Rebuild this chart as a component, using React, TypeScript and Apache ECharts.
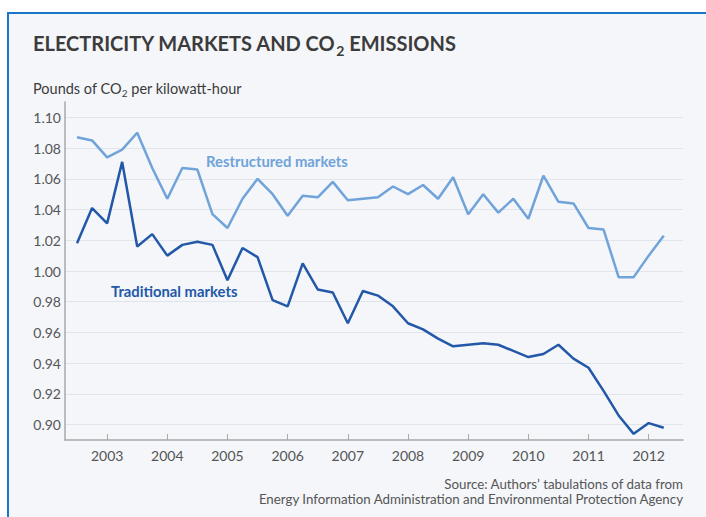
import React, { useEffect, useRef } from "react";
import * as echarts from "echarts";

const quarters = [
  2002.5, 2002.75, 2003, 2003.25, 2003.5, 2003.75, 2004, 2004.25, 2004.5, 2004.75,
  2005, 2005.25, 2005.5, 2005.75, 2006, 2006.25, 2006.5, 2006.75, 2007, 2007.25,
  2007.5, 2007.75, 2008, 2008.25, 2008.5, 2008.75, 2009, 2009.25, 2009.5, 2009.75,
  2010, 2010.25, 2010.5, 2010.75, 2011, 2011.25, 2011.5, 2011.75, 2012, 2012.25,
];

const restructured = [
  1.087, 1.085, 1.074, 1.079, 1.09, 1.067, 1.047, 1.067, 1.066, 1.037,
  1.028, 1.047, 1.06, 1.05, 1.036, 1.049, 1.048, 1.058, 1.046, 1.047,
  1.048, 1.055, 1.05, 1.056, 1.047, 1.061, 1.037, 1.05, 1.038, 1.047,
  1.034, 1.062, 1.045, 1.044, 1.028, 1.027, 0.996, 0.996, 1.01, 1.023,
];

const traditional = [
  1.018, 1.041, 1.031, 1.071, 1.016, 1.024, 1.01, 1.017, 1.019, 1.017,
  0.994, 1.015, 1.009, 0.981, 0.977, 1.005, 0.988, 0.986, 0.966, 0.987,
  0.984, 0.977, 0.966, 0.962, 0.956, 0.951, 0.952, 0.953, 0.952, 0.948,
  0.944, 0.946, 0.952, 0.943, 0.937, 0.922, 0.906, 0.894, 0.901, 0.898,
];

const yearTicks = [2003, 2004, 2005, 2006, 2007, 2008, 2009, 2010, 2011, 2012];
const yTickLabels = ["0.90", "0.92", "0.94", "0.96", "0.98", "1.00", "1.02", "1.04", "1.06", "1.08", "1.10"];

const FONT = "Lato";
const LIGHT = "#6fa3d9";
const DARK = "#2358a8";

export default function App() {
  const ref = useRef<HTMLDivElement>(null);
  useEffect(() => {
    if (!ref.current) return;
    const chart = echarts.init(ref.current, null, { renderer: "svg" });
    const option: any = {
      animation: false,
      backgroundColor: "#f4f6fa",
      textStyle: { fontFamily: FONT },
      grid: { left: 65, right: 23, top: 102, bottom: 77, containLabel: false },
      xAxis: {
        type: "value",
        min: 2002.3,
        max: 2012.57,
        axisLine: { show: true, lineStyle: { color: "#a9a9a9", width: 1.5 } },
        axisTick: { show: true, inside: true, length: 6, customValues: yearTicks, lineStyle: { color: "#a9a9a9" } },
        axisLabel: {
          customValues: yearTicks,
          formatter: (v: number) => String(Math.round(v)),
          color: "#555",
          fontSize: 14,
          fontFamily: FONT,
          margin: 8,
        },
        splitLine: { show: false },
      },
      yAxis: {
        type: "value",
        min: 0.89,
        max: 1.11,
        interval: 0.01,
        axisLine: { show: true, lineStyle: { color: "#a9a9a9", width: 1.5 } },
        axisTick: { show: false },
        axisLabel: {
          formatter: (v: number) => {
            const s = (Math.round(v * 100) / 100).toFixed(2);
            return yTickLabels.indexOf(s) >= 0 ? s : "";
          },
          color: "#555",
          fontSize: 14,
          fontFamily: FONT,
          margin: 4,
        },
        splitLine: { show: true, lineStyle: { color: ["rgba(0,0,0,0)", "#e1e4ea"], width: 1 } },
      },
      graphic: [
        { type: "rect", silent: true, shape: { x: 0, y: 0, width: 706, height: 12 }, style: { fill: "#ffffff" } },
        { type: "rect", silent: true, shape: { x: 0, y: 0, width: 7, height: 517 }, style: { fill: "#ffffff" } },
        {
          type: "polyline",
          silent: true,
          shape: { points: [[8, 517], [8, 13], [706, 13]] },
          style: { stroke: "#1a76c6", lineWidth: 2, fill: "none" },
        },
        {
          type: "text",
          x: 33,
          y: 29,
          style: {
            text: "ELECTRICITY MARKETS AND CO{s|2} EMISSIONS",
            fontSize: 20,
            fontWeight: "bold",
            fontFamily: FONT,
            fill: "#3c3c3c",
            lineHeight: 28,
            verticalAlign: "top",
            rich: {
              s: { fontSize: 14, fontWeight: "bold", fontFamily: FONT, fill: "#3c3c3c", lineHeight: 12, verticalAlign: "bottom" },
            },
          },
        },
        {
          type: "text",
          x: 33,
          y: 78,
          style: {
            text: "Pounds of CO{s|2} per kilowatt-hour",
            fontSize: 14.5,
            fontFamily: FONT,
            fill: "#3c3c3c",
            lineHeight: 20,
            verticalAlign: "top",
            rich: {
              s: { fontSize: 10, fontFamily: FONT, fill: "#3c3c3c", lineHeight: 8, verticalAlign: "bottom" },
            },
          },
        },
        {
          type: "text",
          x: 206,
          y: 161,
          style: { text: "Restructured markets", fontSize: 14.8, fontWeight: "bold", fontFamily: FONT, fill: LIGHT, verticalAlign: "middle" },
        },
        {
          type: "text",
          x: 111,
          y: 291,
          style: { text: "Traditional markets", fontSize: 14.8, fontWeight: "bold", fontFamily: FONT, fill: DARK, verticalAlign: "middle" },
        },
        {
          type: "text",
          x: 683,
          y: 476,
          style: {
            text: "Source: Authors\u2019 tabulations of data from\nEnergy Information Administration and Environmental Protection Agency",
            fontSize: 13.3,
            fontFamily: FONT,
            fill: "#555",
            align: "right",
            verticalAlign: "top",
            lineHeight: 15,
          },
        },
      ],
      series: [
        {
          name: "Restructured markets",
          type: "line",
          data: quarters.map((q, i) => [q, restructured[i]]),
          showSymbol: false,
          lineStyle: { color: LIGHT, width: 2.5 },
          itemStyle: { color: LIGHT },
          z: 3,
        },
        {
          name: "Traditional markets",
          type: "line",
          data: quarters.map((q, i) => [q, traditional[i]]),
          showSymbol: false,
          lineStyle: { color: DARK, width: 2.5 },
          itemStyle: { color: DARK },
          z: 4,
        },
      ],
    };
    chart.setOption(option);
    return () => chart.dispose();
  }, []);
  return (
    <div
      ref={ref}
      style={{ position: "fixed", left: 0, top: 0, width: 706, height: 517 }}
    />
  );
}
